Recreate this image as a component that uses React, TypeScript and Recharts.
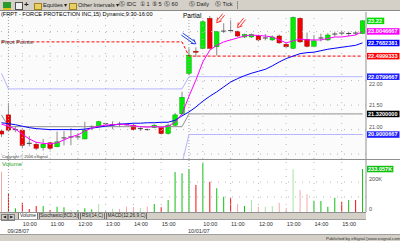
import React from 'react';
import {
  ComposedChart,
  BarChart,
  Bar,
  Line,
  XAxis,
  YAxis,
  ReferenceLine,
  Cell
} from 'recharts';

const FONT = '"Liberation Sans", Arial, sans-serif';

// 15 min bars on screen: last bar of 09/27, then the 09/28 and 10/01 sessions
const sessionDates = ['09/27/07', '09/28/07', '10/01/07'];
const sessionStart = ['15:45', '9:30', '9:30'];
const sessionBars = [1, 26, 26];

const opens = [
  20.97, 21.30, 21.00, 20.99, 20.71, 20.70, 20.63, 20.73, 20.65, 20.82, 20.84, 20.84, 20.81, 21.05,
  21.06, 21.12, 21.09, 21.10, 21.10, 21.09, 21.01, 21.00, 21.04, 21.04, 20.92, 21.09, 21.32,
  22.15, 22.60, 22.66, 23.27, 22.69, 23.00, 23.01, 23.00, 22.89, 22.89, 22.91, 22.86, 22.83,
  22.91, 22.74, 22.66, 23.27, 22.84, 22.70, 22.86, 22.83, 22.94, 22.96, 22.95, 22.96, 22.96
];
const highs = [
  21.01, 21.54, 21.07, 21.03, 20.87, 20.75, 20.81, 20.75, 20.96, 20.97, 21.03, 20.93, 21.16, 21.09,
  21.18, 21.14, 21.17, 21.16, 21.12, 21.12, 21.05, 21.02, 21.11, 21.06, 21.12, 21.34, 21.77,
  22.66, 22.68, 23.23, 23.32, 23.00, 23.17, 23.23, 23.02, 22.96, 22.96, 22.94, 22.95, 22.92,
  22.94, 22.77, 23.31, 23.29, 22.98, 22.93, 22.96, 22.97, 23.00, 23.02, 23.00, 23.01, 23.23
];
const lows = [
  20.85, 20.97, 20.95, 20.62, 20.66, 20.58, 20.57, 20.58, 20.64, 20.68, 20.68, 20.79, 20.80, 20.99,
  21.04, 21.09, 21.01, 21.05, 21.08, 20.99, 20.97, 20.98, 21.03, 20.90, 20.90, 21.07, 21.30,
  22.11, 22.48, 22.64, 22.64, 22.51, 22.97, 23.00, 22.89, 22.87, 22.87, 22.80, 22.82, 22.81,
  22.75, 22.66, 22.64, 22.77, 22.68, 22.68, 22.80, 22.81, 22.90, 22.92, 22.91, 22.93, 22.95
];
const closes = [
  20.91, 20.99, 21.00, 20.68, 20.72, 20.62, 20.70, 20.62, 20.75, 20.83, 20.85, 20.85, 20.99, 21.06,
  21.16, 21.11, 21.10, 21.11, 21.10, 21.00, 21.02, 21.00, 21.09, 20.92, 21.09, 21.30, 21.66,
  22.52, 22.58, 23.20, 22.66, 23.00, 23.01, 23.02, 22.91, 22.94, 22.94, 22.83, 22.87, 22.89,
  22.77, 22.69, 23.29, 22.79, 22.70, 22.81, 22.87, 22.93, 22.95, 22.97, 22.96, 22.97, 23.22
];

// moving averages as drawn (magenta fast, blue slow)
const fastMa = [
  21.11, 21.07, 21.01, 20.91, 20.81, 20.74, 20.72, 20.71, 20.73, 20.79, 20.85, 20.89, 20.97, 21.03,
  21.07, 21.09, 21.10, 21.11, 21.10, 21.08, 21.06, 21.05, 21.06, 21.05, 21.07, 21.15, 21.32,
  21.68, 22.01, 22.38, 22.62, 22.72, 22.79, 22.83, 22.87, 22.91, 22.93, 22.92, 22.91, 22.89,
  22.83, 22.77, 22.81, 22.85, 22.83, 22.83, 22.83, 22.86, 22.89, 22.89, 22.91, 22.93, 23.00
];
const slowMa = [
  21.14, 21.12, 21.10, 21.07, 21.04, 21.02, 21.01, 21.00, 21.00, 21.00, 21.00, 21.00, 21.01, 21.03,
  21.05, 21.07, 21.09, 21.11, 21.12, 21.13, 21.13, 21.14, 21.14, 21.15, 21.15, 21.19, 21.28,
  21.36, 21.46, 21.58, 21.68, 21.77, 21.87, 21.97, 22.04, 22.10, 22.15, 22.19, 22.23, 22.30,
  22.38, 22.45, 22.50, 22.55, 22.57, 22.58, 22.61, 22.64, 22.66, 22.68, 22.70, 22.72, 22.77
];

// pivot levels per session
const pivotPP = [22.79, 22.79, 22.50];
const pivotS1 = [22.15, 21.83, 22.08];
const pivotS2 = [21.30, 21.06, 21.32];
const pivotS3 = [20.30, 20.30, 20.90];

// volume in thousands, with eSignal's shade code (G/R strong, g/r light)
const volumesK = [
  269, 125, 25, 62, 20, 40, 40, 13, 35, 31, 13, 13, 25, 18, 53, 13, 22, 20, 35, 33, 27, 35, 53, 31,
  80, 267, 258, 285, 180, 325, 202, 158, 102, 91, 53, 40, 80, 35, 35, 40, 62, 27, 285, 147, 118,
  75, 73, 35, 95, 69, 80, 80, 287
];
const volumeTone = [
  'r', 'R', 'G', 'R', 'R', 'R', 'G', 'R', 'G', 'G', 'g', 'G', 'G', 'G', 'g', 'g', 'g', 'r', 'r', 'r',
  'g', 'r', 'G', 'R', 'G', 'G', 'G', 'G', 'R', 'G', 'R', 'G', 'G', 'R', 'r', 'G', 'g', 'r', 'g', 'g',
  'r', 'r', 'g', 'r', 'r', 'G', 'G', 'G', 'G', 'R', 'G', 'R', 'G'
];

const priceGrid = [20.5, 21, 21.5, 22, 22.5, 23];
const priceTicks = [20.5, 21, 21.5, 22];
const volumeTicks = [0, 100000, 200000];
const priceTags = ['23.22', '23.0046667', '22.7682381', '22.4999333', '22.0799667', '21.3200000', '20.9000667'];
const volumeTag = '233.057K';

const tagColors = ['#00dd00', '#ff00ff', '#0000ff', '#ff0000', '#2020ff', '#000000', '#2020ff'];
const toneColors: Record<string, string> = { G: '#10c010', g: '#a8e0a8', R: '#ee1010', r: '#f6a8a8' };
const tagValues = priceTags.map(parseFloat);

// build one row per bar
const rows: any[] = [];
sessionDates.forEach((date, d) => {
  let [hh, mm] = sessionStart[d].split(':').map(Number);
  for (let k = 0; k < sessionBars[d]; k++) {
    const i = rows.length;
    rows.push({
      i,
      date,
      time: `${hh}:${String(mm).padStart(2, '0')}`,
      first: k === 0 && d > 0,
      hour: mm === 0,
      open: opens[i],
      high: highs[i],
      low: lows[i],
      close: closes[i],
      fast: fastMa[i],
      slow: slowMa[i],
      pp: pivotPP[d],
      s1: pivotS1[d],
      s2: pivotS2[d],
      s3: pivotS3[d],
      volume: volumesK[i] * 1000,
      tone: volumeTone[i]
    });
    mm += 15;
    if (mm === 60) {
      mm = 0;
      hh += 1;
    }
  }
});

const hourBars = rows.filter((r) => r.hour).map((r) => r.i);
const sessionFirstBars = rows.filter((r) => r.first).map((r) => r.i);
const axisTicks = rows.filter((r) => r.hour || r.first).map((r) => r.i);

const Candle = (props: any) => {
  const { x, y, width, height, payload } = props;
  const { open, close, high, low } = payload;
  const top = Math.min(y, y + height);
  const h = Math.abs(height);
  const span = high - low || 1;
  const toY = (v: number) => top + ((high - v) / span) * h;
  const cx = x + width / 2;
  const doji = Math.abs(close - open) < 0.012;
  const up = close > open;
  const bodyTop = toY(Math.max(open, close));
  const bodyBot = toY(Math.min(open, close));
  return (
    <g>
      <line x1={cx} x2={cx} y1={top} y2={top + h} stroke="#8a8a8a" strokeWidth={1} />
      {doji ? (
        <line x1={x} x2={x + width} y1={bodyTop} y2={bodyTop} stroke="#404040" strokeWidth={1} />
      ) : (
        <rect
          x={x + 0.25}
          y={bodyTop}
          width={width - 0.5}
          height={Math.max(bodyBot - bodyTop, 1)}
          fill={up ? '#00ee00' : '#ee0000'}
          stroke={up ? '#00a000' : '#a00000'}
          strokeWidth={0.5}
        />
      )}
    </g>
  );
};

const tagLabel = (text: string, bg: string) => (props: any) => {
  const vb = props.viewBox || {};
  const x = vb.x + vb.width + 1;
  const y = vb.y;
  return (
    <g>
      <rect x={x} y={y - 3.2} width={text.length * 3.05 + 2} height={6.5} fill={bg} />
      <text x={x + 1} y={y + 2} fontSize={5.6} fill="#ffffff" fontFamily={FONT} fontWeight="bold">
        {text}
      </text>
    </g>
  );
};

const arrowShape = (color: string) => (p: any) => {
  const { x1, y1, x2, y2 } = p;
  const dx = x2 - x1;
  const dy = y2 - y1;
  const len = Math.hypot(dx, dy) || 1;
  const ux = dx / len;
  const uy = dy / len;
  const nx = -uy * 1.2;
  const ny = ux * 1.2;
  const hb = 4.5;
  const ha = [x2 - ux * hb + nx * 2.2, y2 - uy * hb + ny * 2.2];
  const hc = [x2 - ux * hb - nx * 2.2, y2 - uy * hb - ny * 2.2];
  return (
    <g stroke={color} strokeWidth={0.9} fill="none">
      <line x1={x1 + nx} y1={y1 + ny} x2={x2 + nx - ux * 2} y2={y2 + ny - uy * 2} />
      <line x1={x1 - nx} y1={y1 - ny} x2={x2 - nx - ux * 2} y2={y2 - ny - uy * 2} />
      <polyline points={`${ha[0]},${ha[1]} ${x2},${y2} ${hc[0]},${hc[1]}`} />
    </g>
  );
};

// price labels step away from a value tag sitting right next to them
const PriceTick = ({ x, y, payload }: any) => {
  const v = payload.value;
  const near = tagValues.find((t) => Math.abs(t - v) < 0.15);
  const dy = near === undefined ? 2 : near > v ? 5 : -1;
  return (
    <text x={x} y={y + dy} fontSize={5.4} fill="#505050" fontFamily={FONT}>
      {v.toFixed(2)}
    </text>
  );
};

const VolumeTick = ({ x, y, payload }: any) => (
  <text x={x} y={y - 1} fontSize={5.6} fill="#505050" fontFamily={FONT}>
    {payload.value === 0 ? '0' : `${payload.value / 1000}K`}
  </text>
);

const TimeTick = ({ x, y, payload }: any) => {
  const row = rows[payload.value];
  return (
    <g fontFamily={FONT} fontSize={5.6} fill="#303030">
      {row.hour && (
        <text x={x + 0.5} y={y + 14}>
          {row.time.padStart(5, '0')}
        </text>
      )}
      {row.first && (
        <text x={x - 1} y={y + 20.5}>
          {row.date}
        </text>
      )}
    </g>
  );
};

const grid = { stroke: '#b8b8b8', strokeDasharray: '1 6', strokeWidth: 1 };
const daySep = { stroke: '#a0a0a0', strokeDasharray: '1 2', strokeWidth: 1 };

const PriceChart = () => (
  <ComposedChart width={402} height={159} data={rows} margin={{ top: 12, right: 0, bottom: 0, left: 0 }}>
    <XAxis dataKey="i" hide />
    <YAxis
      orientation="right"
      width={34}
      domain={[20.4, 23.4]}
      allowDataOverflow
      ticks={priceTicks}
      tick={<PriceTick />}
      tickLine={false}
      tickSize={0}
      tickMargin={3}
      axisLine={{ stroke: '#909090' }}
    />
    {priceGrid.map((v) => (
      <ReferenceLine key={`h${v}`} y={v} {...grid} />
    ))}
    {hourBars.map((i) => (
      <ReferenceLine key={`v${i}`} x={i} {...grid} />
    ))}
    {sessionFirstBars.map((i) => (
      <ReferenceLine key={`d${i}`} x={i} {...daySep} />
    ))}
    <Line dataKey="s3" stroke="#b4b4ff" strokeWidth={1} dot={false} isAnimationActive={false} />
    <Line dataKey="s2" stroke="#909090" strokeWidth={1} dot={false} isAnimationActive={false} />
    <Line dataKey="s1" stroke="#b4b4ff" strokeWidth={1} dot={false} isAnimationActive={false} />
    <Line
      dataKey="pp"
      stroke="#ff0000"
      strokeWidth={1}
      strokeDasharray="3 2"
      dot={false}
      isAnimationActive={false}
    />
    <Line dataKey="slow" stroke="#0000ff" strokeWidth={1} dot={false} isAnimationActive={false} />
    <Line dataKey="fast" stroke="#ff00ff" strokeWidth={1} dot={false} isAnimationActive={false} />
    <Bar
      dataKey={(d: any) => [d.low, d.high]}
      barSize={5}
      shape={(p: any) => <Candle {...p} />}
      isAnimationActive={false}
    />
    <ReferenceLine
      segment={[{ x: 26, y: 22.95 }, { x: 28, y: 22.75 }]}
      ifOverflow="visible"
      shape={arrowShape('#1030e0')}
    />
    <ReferenceLine
      segment={[{ x: 32, y: 23.35 }, { x: 31, y: 23.18 }]}
      ifOverflow="visible"
      shape={arrowShape('#ff2020')}
    />
    <ReferenceLine
      segment={[{ x: 35, y: 23.26 }, { x: 34, y: 23.08 }]}
      ifOverflow="visible"
      shape={arrowShape('#ff2020')}
    />
    {priceTags.map((t, k) => (
      <ReferenceLine
        key={t}
        y={tagValues[k]}
        stroke="none"
        ifOverflow="visible"
        label={tagLabel(t, tagColors[k])}
      />
    ))}
  </ComposedChart>
);

const VolumeChart = () => (
  <BarChart width={402} height={82} data={rows} margin={{ top: 1, right: 0, bottom: 0, left: 0 }}>
    <XAxis
      dataKey="i"
      height={29}
      ticks={axisTicks}
      interval={0}
      tick={<TimeTick />}
      tickLine={false}
      tickSize={0}
      tickMargin={0}
      axisLine={false}
    />
    <YAxis
      orientation="right"
      width={34}
      domain={[0, 347000]}
      ticks={volumeTicks}
      tick={<VolumeTick />}
      tickLine={false}
      tickSize={0}
      tickMargin={3}
      axisLine={{ stroke: '#909090' }}
    />
    {volumeTicks.slice(1).map((v) => (
      <ReferenceLine key={`h${v}`} y={v} {...grid} />
    ))}
    {hourBars.map((i) => (
      <ReferenceLine key={`v${i}`} x={i} {...grid} />
    ))}
    {sessionFirstBars.map((i) => (
      <ReferenceLine key={`d${i}`} x={i} {...daySep} />
    ))}
    <Bar dataKey="volume" barSize={1} isAnimationActive={false}>
      {rows.map((r) => (
        <Cell key={r.i} fill={toneColors[r.tone]} />
      ))}
    </Bar>
    <ReferenceLine
      y={volumesK[volumesK.length - 1] * 1000}
      stroke="none"
      ifOverflow="visible"
      label={tagLabel(volumeTag, '#10c010')}
    />
  </BarChart>
);

const abs = (left: number, top: number, extra: React.CSSProperties = {}): React.CSSProperties => ({
  position: 'absolute',
  left,
  top,
  whiteSpace: 'nowrap',
  lineHeight: 1,
  ...extra
});

const Toolbar = () => (
  <div
    style={abs(0, 0, {
      width: 400,
      height: 10,
      background: '#d4d0c8',
      borderBottom: '1px solid #8a8a8a',
      fontSize: 5.6,
      color: '#202020'
    })}
  >
    <div style={abs(3, 2, { width: 8, height: 6, background: '#2a9a2a', borderBottom: '2px solid #e0c020' })} />
    <div style={abs(15, 2, { width: 6, height: 6, border: '1px solid #505050', background: '#f0f0f0' })} />
    <div style={abs(24, 1, { fontSize: 8, fontWeight: 'bold' })}>+</div>
    <div style={abs(34, 3, { width: 6, height: 5, background: '#e8d060', border: '1px solid #a08020' })} />
    <div style={abs(43, 2.5)}>Equities ▾</div>
    <div style={abs(69, 3, { width: 6, height: 5, background: '#e8d060', border: '1px solid #a08020' })} />
    <div style={abs(78, 2.5)}>Other Intervals ▾</div>
    <div style={abs(119, 2)}>Ⓢ IDC</div>
    <div style={abs(140, 2)}>① 1</div>
    <div style={abs(152, 2)}>⑤ 5</div>
    <div style={abs(164, 2)}>Ⓢ 60</div>
    <div style={abs(189, 2)}>Ⓢ Daily</div>
    <div style={abs(215, 2)}>Ⓢ Tick</div>
    <div style={abs(237, 1, { width: 1, height: 8, background: '#909090' })} />
  </div>
);

const tabs = ['Volume', 'Stochastic(8C0,3)', 'RSI(14,C)', 'MACD(12,26,9,C)'];
const tabLeft = [18, 39, 80, 106];
const tabWidth = [20, 40, 25, 41];

const TabStrip = () => (
  <div
    style={abs(0, 212, {
      width: 366,
      height: 6,
      background: '#d4d0c8',
      borderTop: '1px solid #909090',
      borderBottom: '1px solid #a0a0a0',
      fontSize: 4.8,
      color: '#202020'
    })}
  >
    <div style={abs(1, 0.5, { width: 5, height: 5, border: '1px solid #808080', fontSize: 4, textAlign: 'center' })}>◀</div>
    <div style={abs(8, 0.5, { width: 5, height: 5, border: '1px solid #808080', fontSize: 4, textAlign: 'center' })}>▶</div>
    {tabs.map((t, k) => (
      <div
        key={t}
        style={abs(tabLeft[k], 0, {
          width: tabWidth[k],
          height: 6,
          background: k === 0 ? '#ffffff' : '#d4d0c8',
          borderLeft: '1px solid #707070',
          borderRight: '1px solid #707070',
          textAlign: 'center',
          paddingTop: 0.5,
          boxSizing: 'border-box'
        })}
      >
        {t}
      </div>
    ))}
  </div>
);

export default function App() {
  return (
    <div
      style={{
        position: 'fixed',
        left: 0,
        top: 0,
        width: 400,
        height: 241,
        overflow: 'hidden',
        background: '#ffffff',
        fontFamily: FONT
      }}
    >
      <div style={abs(0, 11, { width: 366, height: 148, background: '#fbfbfb' })} />
      <div style={abs(-2, 0)}>
        <PriceChart />
      </div>
      <div style={abs(0, 159, { width: 400, height: 1, background: '#909090' })} />
      <div style={abs(-2, 159)}>
        <VolumeChart />
      </div>
      <div style={abs(1, 12, { fontSize: 5.6, color: '#000000' })}>
        (FRPT - FORCE PROTECTION INC,15) Dynamic,9:30-16:00
      </div>
      <div style={abs(1, 39, { fontSize: 6, color: '#404040' })}>Pivot Points</div>
      <div style={abs(183, 13, { fontSize: 6.5, color: '#000000' })}>Partial</div>
      <div style={abs(2, 154.5, { fontSize: 4, color: '#404040' })}>Copyright © 2006 eSignal</div>
      <div style={abs(2, 161, { fontSize: 6, color: '#20a020' })}>Volume</div>
      <TabStrip />
      <div
        style={abs(0, 234, {
          width: 400,
          height: 7,
          background: '#d4d0c8',
          borderTop: '1px solid #a0a0a0'
        })}
      >
        <div style={abs(326, 1.5, { fontSize: 4.2, color: '#303030' })}>Published by eSignal (www.esignal.com)</div>
      </div>
      <Toolbar />
    </div>
  );
}
